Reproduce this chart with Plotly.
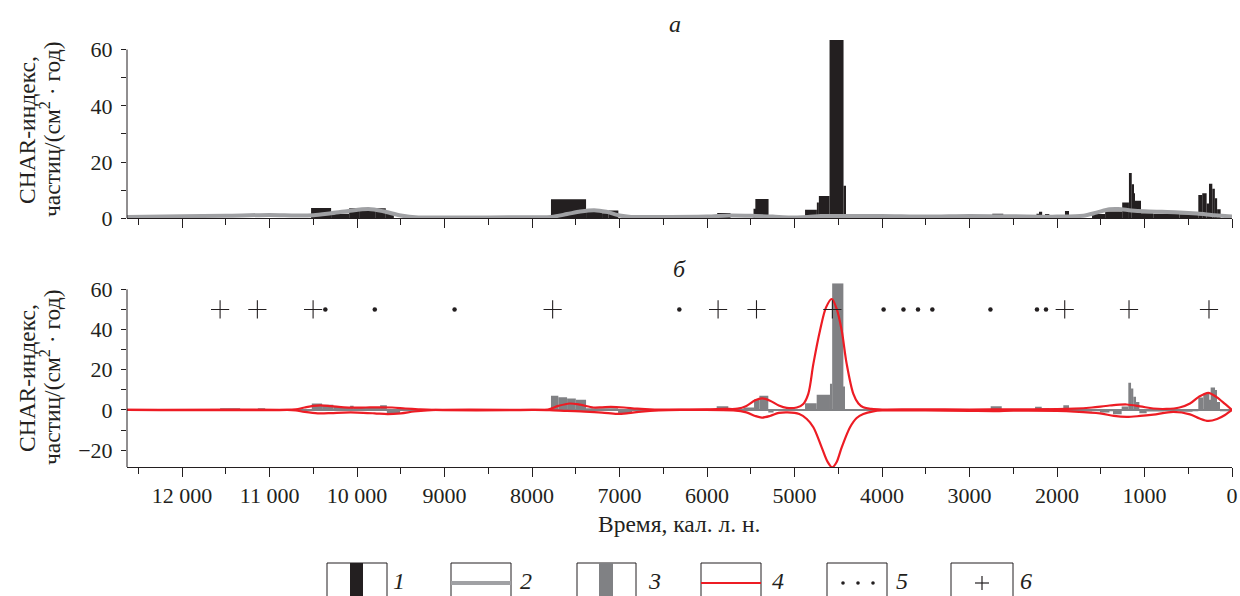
import plotly.graph_objects as go

# ---------------- DATA ----------------
# Panel а: CHAR series (1) as bars: older edge, younger edge (cal. yr BP), value
char_old   = [10526, 10297, 10091, 9977, 9786, 9672, 7784, 7383, 7200, 7128,
              5884, 5469, 5448, 4880, 4745, 4722, 4600, 4440,
              2740, 2235, 2206, 2137, 1909, 1600, 1450, 1255, 1178, 1146, 1128, 1109,
              1040, 900, 600, 385, 340, 290, 263, 225, 196, 170]
char_young = [10297, 10091, 9977, 9786, 9672, 9580, 7383, 7200, 7128, 7014,
              5732, 5448, 5297, 4745, 4722, 4600, 4440, 4420,
              2614, 2206, 2170, 2088, 1863, 1450, 1255, 1178, 1146, 1128, 1109, 1040,
              900, 600, 385, 340, 290, 263, 225, 196, 170, 130]
char_val   = [3.7, 1.6, 3.6, 3.0, 3.6, 1.8, 6.8, 2.6, 1.8, 2.8,
              1.9, 3.4, 6.9, 3.0, 5.6, 7.9, 63.4, 11.6,
              1.6, 1.6, 2.3, 1.5, 2.6, 1.5, 2.4, 5.6, 16.1, 12.1, 8.9, 6.2,
              1.8, 1.6, 1.4, 8.3, 8.9, 5.3, 12.3, 10.5, 7.1, 3.2]

# Panel а: background (2), grey line
bg_age = [12630, 12000, 11500, 11000, 10700, 10500, 10300, 10100, 9870, 9700, 9500,
          9300, 9000, 8500, 8000, 7780, 7600, 7450, 7290, 7150, 7000, 6870, 6500,
          6000, 5750, 5500, 5250, 5050, 4850, 4700, 4500, 4000, 3500, 3000, 2500,
          2000, 1700, 1550, 1400, 1300, 1150, 1000, 800, 600, 400, 200, 0]
bg_val = [0.5, 0.7, 0.9, 1.2, 1.0, 1.1, 1.8, 2.6, 3.3, 2.5, 1.0,
          0.3, 0.3, 0.3, 0.4, 0.5, 1.5, 2.4, 2.9, 2.3, 1.0, 0.5, 0.5,
          0.6, 1.0, 0.9, 0.6, 0.3, 0.5, 0.8, 0.8, 0.8, 0.6, 0.8, 0.7,
          0.6, 0.9, 2.0, 3.2, 3.3, 2.8, 2.5, 2.3, 2.1, 1.7, 1.1, 0.6]

# Panel б: residual CHAR (3) as bars
res_old   = [11566, 11135, 10518, 10400, 10271, 10080, 10040, 9737, 9660,
             7784, 7700, 7600, 7500, 7383, 7200, 7017,
             5890, 5585, 5463, 5402, 5300,
             4880, 4747, 4595, 4570, 4442,
             2758, 2251, 2175, 1928, 1850, 1700, 1600, 1509, 1400, 1360,
             1261, 1185, 1154, 1128, 1097, 1059, 975, 780, 600, 450,
             385, 328, 259, 244, 194, 175, 137]
res_young = [11337, 11051, 10400, 10271, 10080, 10040, 9737, 9660, 9508,
             7700, 7600, 7500, 7383, 7200, 7017, 6857,
             5757, 5463, 5402, 5300, 5240,
             4747, 4595, 4570, 4442, 4425,
             2632, 2175, 2088, 1863, 1700, 1600, 1509, 1400, 1360, 1261,
             1185, 1154, 1128, 1097, 1059, 975, 780, 600, 450, 385,
             328, 259, 244, 194, 175, 137, 0]
res_val   = [0.85, 0.85, 3.2, 2.6, 1.5, 2.1, 1.0, 2.3, -1.6,
             7.0, 6.3, 5.7, 5.1, 0.8, 0.6, -1.5,
             1.8, 1.2, 5.2, 7.0, -1.3,
             3.3, 7.5, 13.0, 63.0, 11.6,
             1.8, 1.6, 0.8, 2.3, -0.4, -0.8, -0.5, -1.3, -0.6, -2.2,
             1.7, 13.5, 10.6, 6.5, 4.0, -1.7, -0.8, -0.5, -0.9, -0.5,
             6.2, 8.2, 5.0, 11.2, 9.9, 4.0, -0.5]

# Panel б: threshold (4), red, upper and lower envelopes
thr_up_age = [12630, 10800, 10700, 10600, 10500, 10420, 10300, 10150, 10050, 9900,
              9750, 9600, 9450, 9300, 9130, 8000, 7820, 7700, 7570, 7450, 7300,
              7200, 7100, 6950, 6800, 6600, 6400, 6000, 5800, 5650, 5550, 5450,
              5370, 5280, 5180, 5090, 4975, 4900, 4843, 4785, 4709, 4640, 4575,
              4520, 4461, 4404, 4328, 4270, 4214, 4120, 4000, 3600, 3000, 2500,
              2000, 1800, 1600, 1400, 1204, 1050, 900, 750, 600, 480, 380, 270,
              180, 80, 0]
thr_up     = [0, 0, 0.3, 1.2, 2.0, 2.3, 1.9, 1.3, 1.1, 1.2,
              1.3, 1.2, 0.7, 0.3, 0, 0, 0.2, 2.0, 3.2, 2.6, 1.2,
              1.3, 1.5, 1.2, 0.6, 0.2, 0.1, 0.3, 0.5, 0.6, 2.0, 4.8,
              5.7, 4.6, 2.2, 1.0, 1.2, 3.0, 8.0, 22.9, 39.5, 51.0, 55.2,
              50.5, 39.5, 22.9, 8.0, 3.2, 1.3, 0.5, 0.2, 0.3, 0.2, 0.3,
              0.4, 0.6, 1.2, 2.2, 2.7, 1.8, 0.7, 0.5, 1.2, 3.2, 6.5, 8.5,
              6.5, 3.0, 0]
thr_lo_age = [12630, 10800, 10700, 10600, 10450, 10300, 10150, 10000, 9800, 9650,
              9500, 9350, 9200, 9100, 8000, 7800, 7600, 7400, 7200, 7030, 6900,
              6750, 6550, 6300, 5700, 5550, 5450, 5374, 5280, 5180, 5080, 4946,
              4860, 4785, 4690, 4620, 4570, 4520, 4461, 4366, 4290, 4214, 4100,
              4000, 3500, 3000, 2700, 2500, 2000, 1800, 1509, 1350, 1204, 1050,
              899, 670, 480, 370, 270, 170, 80, 0]
thr_lo     = [0, 0, -0.3, -1.0, -1.7, -1.6, -1.3, -1.3, -1.7, -2.1,
              -1.7, -0.8, -0.2, 0, 0, -0.1, -0.5, -0.8, -1.3, -2.0, -1.6,
              -0.8, -0.2, 0, -0.2, -1.2, -3.0, -3.8, -3.0, -1.5, -1.2, -2.0,
              -4.5, -8.6, -18.6, -26.0, -28.6, -26.0, -18.6, -8.6, -4.0, -2.0, -0.7,
              -0.3, -0.3, -0.5, -0.6, -0.4, -0.5, -0.8, -1.7, -3.0, -3.5, -3.0,
              -2.3, -1.0, -2.2, -4.3, -5.5, -4.5, -2.5, 0]

# Panel б: event markers (5: dots, 6: crosses), plotted at level 50
dot_age  = [10363, 9798, 8886, 6317, 3982, 3755, 3589, 3425, 2761, 2229, 2126]
plus_age = [11566, 11140, 10503, 7765, 5874, 5435, 4568, 1912, 1177, 263]
marker_level = 50

x_tickvals = [12000, 11000, 10000, 9000, 8000, 7000, 6000, 5000, 4000, 3000, 2000, 1000, 0]
x_ticktext = ["12 000", "11 000", "10 000", "9000", "8000", "7000", "6000",
              "5000", "4000", "3000", "2000", "1000", "0"]
ya_tickvals = [0, 20, 40, 60]
yb_tickvals = [-20, 0, 20, 40, 60]
legend_labels = ["1", "2", "3", "4", "5", "6"]

# ---------------- STYLE / LAYOUT ----------------
W, H = 1240, 596
ML, MR, MT, MB = 127, 8, 40, 129
PW, PH = W - ML - MR, H - MT - MB
def px(x):  # pixel x -> paper x
    return (x - ML) / PW
def py(y):  # pixel y -> paper y
    return (H - MB - y) / PH

INK = "#231f20"
GREY_BAR = "#808184"
GREY_LINE = "#a0a1a4"
RED = "#ed1c24"
FONT = "Liberation Serif, 'Times New Roman', 'DejaVu Serif', serif"
XR = [12630, 0]

fig = go.Figure()

def centers(o, y):
    return [(a + b) / 2 for a, b in zip(o, y)]
def widths(o, y):
    return [a - b for a, b in zip(o, y)]

fig.add_trace(go.Bar(x=centers(char_old, char_young), y=char_val,
                     width=widths(char_old, char_young), marker=dict(color=INK, line_width=0),
                     xaxis="x", yaxis="y"))
fig.add_trace(go.Scatter(x=bg_age, y=bg_val, mode="lines",
                         line=dict(color=GREY_LINE, width=4, shape="spline", smoothing=0.8),
                         xaxis="x", yaxis="y"))

fig.add_trace(go.Bar(x=centers(res_old, res_young), y=res_val,
                     width=widths(res_old, res_young), marker=dict(color=GREY_BAR, line_width=0),
                     xaxis="x2", yaxis="y2"))
fig.add_trace(go.Scatter(x=thr_up_age, y=thr_up, mode="lines",
                         line=dict(color=RED, width=2.2, shape="spline", smoothing=0.9),
                         xaxis="x2", yaxis="y2"))
fig.add_trace(go.Scatter(x=thr_lo_age, y=thr_lo, mode="lines",
                         line=dict(color=RED, width=2.2, shape="spline", smoothing=0.9),
                         xaxis="x2", yaxis="y2"))
fig.add_trace(go.Scatter(x=dot_age, y=[marker_level] * len(dot_age), mode="markers",
                         marker=dict(symbol="circle", size=4.5, color=INK),
                         xaxis="x2", yaxis="y2"))
fig.add_trace(go.Scatter(x=plus_age, y=[marker_level] * len(plus_age), mode="markers",
                         marker=dict(symbol="cross-thin", size=13, line=dict(color=INK, width=1.1)),
                         xaxis="x2", yaxis="y2"))

tickfont = dict(family=FONT, size=22, color=INK)
xcommon = dict(range=XR, showgrid=False, zeroline=False, showline=True, linecolor=INK,
               linewidth=1, ticks="outside", ticklen=9, tickwidth=1, tickcolor=INK,
               tickvals=x_tickvals, ticktext=x_ticktext, tickfont=tickfont,
               minor=dict(ticks="outside", ticklen=6, tickwidth=1, tickcolor=INK,
                          tickvals=[12500, 11500, 10500, 9500, 8500, 7500, 6500, 5500,
                                    4500, 3500, 2500, 1500, 500]),
               domain=[0, 1])
ycommon = dict(showgrid=False, showline=False, ticks="outside", ticklen=5, tickwidth=1,
               tickcolor=INK, tickfont=tickfont, ticklabelstandoff=4)

fig.update_layout(
    width=W, height=H, margin=dict(l=ML, r=MR, t=MT, b=MB, autoexpand=False),
    paper_bgcolor="white", plot_bgcolor="white", showlegend=False,
    barmode="overlay",
    xaxis=dict(xcommon, anchor="y", showticklabels=False),
    xaxis2=dict(xcommon, anchor="y2", showticklabels=True, ticklabelstandoff=0),
    yaxis=dict(ycommon, domain=[py(218.3), 1.0], range=[0, 63.4], anchor="x",
               tickvals=ya_tickvals, zeroline=False,
               minor=dict(ticks="outside", ticklen=5, tickwidth=1, tickcolor=INK,
                          tickvals=[10, 30, 50])),
    yaxis2=dict(ycommon, domain=[0, py(283.3)], range=[-28.4, 63], anchor="x2",
                tickvals=yb_tickvals, zeroline=True, zerolinecolor=GREY_BAR, zerolinewidth=1.5,
                minor=dict(ticks="outside", ticklen=5, tickwidth=1, tickcolor=INK,
                           tickvals=[-10, 10, 30, 50])),
)

shapes = []
# y-axis spines (end at the top labelled tick)
shapes.append(dict(type="line", xref="paper", yref="y", x0=0, x1=0, y0=0, y1=60,
                   line=dict(color=INK, width=1)))
shapes.append(dict(type="line", xref="paper", yref="y2", x0=0, x1=0, y0=-28.4, y1=60,
                   line=dict(color=INK, width=1)))

# legend boxes
boxes = [(327, 387), (451, 511), (577, 636), (701, 761), (827, 887), (951, 1013)]
label_x = [399, 526, 654, 778, 902, 1026]
ytop, ybot, ymid = 563, 600, 583
for (a, b) in boxes:
    shapes.append(dict(type="rect", xref="paper", yref="paper", x0=px(a), x1=px(b),
                       y0=py(ytop), y1=py(ybot), line=dict(color=INK, width=1),
                       fillcolor="rgba(0,0,0,0)"))
shapes.append(dict(type="rect", xref="paper", yref="paper", x0=px(350), x1=px(363),
                   y0=py(ytop), y1=py(ybot), line_width=0, fillcolor=INK))
shapes.append(dict(type="line", xref="paper", yref="paper", x0=px(451), x1=px(511),
                   y0=py(ymid), y1=py(ymid), line=dict(color=GREY_LINE, width=4)))
shapes.append(dict(type="rect", xref="paper", yref="paper", x0=px(599), x1=px(613),
                   y0=py(ytop), y1=py(ybot), line_width=0, fillcolor=GREY_BAR))
shapes.append(dict(type="line", xref="paper", yref="paper", x0=px(701), x1=px(761),
                   y0=py(ymid), y1=py(ymid), line=dict(color=RED, width=2)))
for cx in (843, 858, 873):
    shapes.append(dict(type="circle", xref="paper", yref="paper", x0=px(cx - 1.8), x1=px(cx + 1.8),
                       y0=py(ymid - 1.8), y1=py(ymid + 1.8), line_width=0, fillcolor=INK))
shapes.append(dict(type="line", xref="paper", yref="paper", x0=px(975), x1=px(989),
                   y0=py(ymid), y1=py(ymid), line=dict(color=INK, width=1.2)))
shapes.append(dict(type="line", xref="paper", yref="paper", x0=px(982), x1=px(982),
                   y0=py(ymid - 7), y1=py(ymid + 7), line=dict(color=INK, width=1.2)))
fig.update_layout(shapes=shapes)

def note(text, x, y, size=21, angle=0):
    return dict(text=text, x=px(x), y=py(y), xref="paper", yref="paper",
                xanchor="center", yanchor="middle", textangle=angle, showarrow=False,
                font=dict(family=FONT, size=size, color=INK))

ann = []
ann.append(note("<i>а</i>", 675, 24, 24))
ann.append(note("<i>б</i>", 679, 269, 24))
for yc in (130, 378):
    ann.append(note("CHAR-индекс,", 27, yc, 23.5, -90))
    ann.append(note("частиц/(см<sup>2</sup> · год)", 50, yc, 23.5, -90))
ann.append(note("Время, кал. л. н.", 679, 524, 23.5))
for lx, lab in zip(label_x, legend_labels):
    ann.append(note("<i>" + lab + "</i>", lx, 581, 24))
fig.update_layout(annotations=ann)

fig.write_html("out.html", config={"displayModeBar": False},
               post_script="document.body.style.margin='0';document.body.style.overflow='hidden';")
